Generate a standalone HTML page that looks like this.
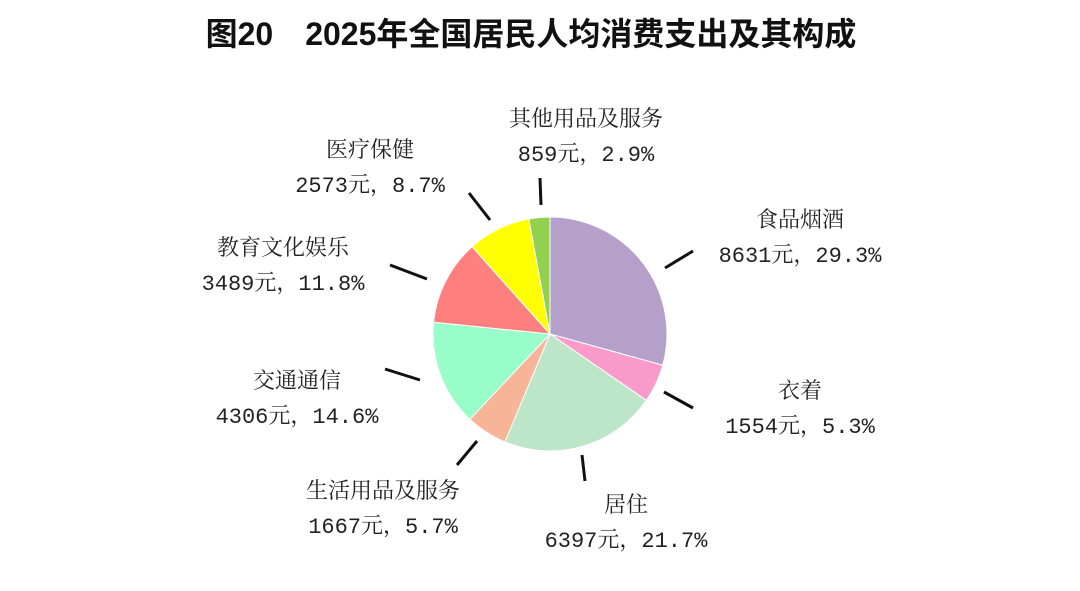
<!DOCTYPE html>
<html><head><meta charset="utf-8"><style>
body{margin:0;width:1080px;height:591px;background:#fff;overflow:hidden}
svg{display:block}
.t{font-family:"Liberation Mono","Noto Serif CJK SC",monospace;font-size:22px;fill:#222;text-anchor:middle}
</style></head><body>
<svg id="s" width="1080" height="591" viewBox="0 0 1080 591">
<text x="531" y="45" style="font-family:'Liberation Sans','Noto Sans CJK SC',sans-serif;font-size:32px;font-weight:bold;text-anchor:middle;fill:#111">图20　2025年全国居民人均消费支出及其构成</text>
<g id="pie"></g>
<g stroke="#111" stroke-width="3">
<line x1="665" y1="268" x2="693" y2="251"/>
<line x1="664" y1="392" x2="693" y2="408"/>
<line x1="582" y1="455" x2="585" y2="481"/>
<line x1="477" y1="441" x2="457" y2="465"/>
<line x1="420" y1="380" x2="385" y2="369"/>
<line x1="427" y1="279" x2="390" y2="265"/>
<line x1="490" y1="220" x2="469" y2="193"/>
<line x1="541" y1="205" x2="540" y2="178"/>
</g>
<text class="t" x="800" y="227">食品烟酒</text><text class="t" x="800" y="262">8631元，29.3%</text>
<text class="t" x="800" y="398">衣着</text><text class="t" x="800" y="433">1554元，5.3%</text>
<text class="t" x="626" y="512">居住</text><text class="t" x="626" y="547">6397元，21.7%</text>
<text class="t" x="383" y="498">生活用品及服务</text><text class="t" x="383" y="533">1667元，5.7%</text>
<text class="t" x="297" y="388">交通通信</text><text class="t" x="297" y="423">4306元，14.6%</text>
<text class="t" x="283" y="255">教育文化娱乐</text><text class="t" x="283" y="290">3489元，11.8%</text>
<text class="t" x="370" y="157">医疗保健</text><text class="t" x="370" y="192">2573元，8.7%</text>
<text class="t" x="586" y="126">其他用品及服务</text><text class="t" x="586" y="161">859元，2.9%</text>
</svg>
<script>
var d=[[29.3,"#b4a0c9"],[5.3,"#f99aca"],[21.7,"#bde5c8"],[5.7,"#f6b597"],[14.6,"#99fdca"],[11.8,"#fd7f7e"],[8.7,"#ffff00"],[2.9,"#92d050"]];
var cx=550,cy=334,r=117,a=0,h="";
d.forEach(function(e){var a0=a,a1=a+e[0]/100*2*Math.PI;a=a1;
var x0=cx+r*Math.sin(a0),y0=cy-r*Math.cos(a0),x1=cx+r*Math.sin(a1),y1=cy-r*Math.cos(a1);
h+='<path d="M'+cx+','+cy+'L'+x0+','+y0+'A'+r+','+r+' 0 '+((a1-a0)>Math.PI?1:0)+' 1 '+x1+','+y1+'Z" fill="'+e[1]+'" stroke="#fff" stroke-width="1"/>';});
document.getElementById("pie").innerHTML=h;
</script>
</body></html>
